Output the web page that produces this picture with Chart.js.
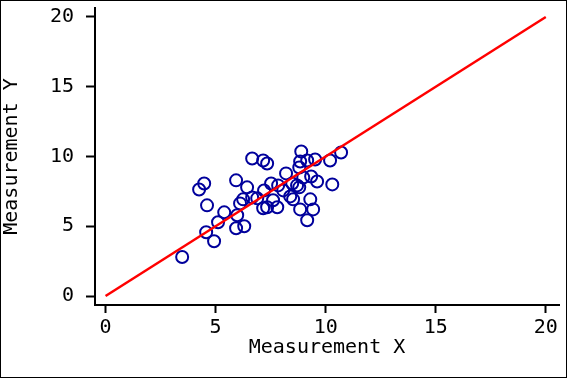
<!DOCTYPE html>
<html>
<head>
<meta charset="utf-8">
<script src="https://cdn.jsdelivr.net/npm/chart.js@4/dist/chart.umd.min.js"></script>
<style>
    html, body { margin: 0; padding: 0; background: #fff; }
    #wrap { width: 567px; height: 378px; }
</style>
</head>
<body>
<div id="wrap"><canvas id="chart" width="567" height="378"></canvas></div>
<script>
const measX = [3.48, 4.25, 4.48, 4.61, 4.57, 4.93, 5.11, 5.39, 5.93, 5.93, 5.98, 6.11, 6.30, 6.25, 6.43, 6.66, 6.66, 6.89, 7.16, 7.34,
    7.20, 7.16, 7.34, 7.52, 7.61, 7.80, 7.84, 8.07, 8.20, 8.39, 8.48, 8.52, 8.70, 8.80, 8.80, 8.89, 8.84, 8.98, 8.84, 9.16,
    9.16, 9.30, 9.43, 9.34, 9.52, 9.61, 10.20, 10.30, 10.70];
const measY = [2.80, 7.64, 8.07, 6.50, 4.57, 3.93, 5.29, 6.00, 8.29, 4.86, 5.79, 6.64, 5.00, 6.93, 7.79, 9.86, 7.07, 7.00, 9.71, 9.50,
    7.57, 6.29, 6.36, 8.07, 6.86, 6.36, 7.93, 7.57, 8.79, 7.14, 8.07, 6.93, 7.93, 9.21, 7.79, 10.36, 9.64, 8.50, 6.21, 9.71,
    5.43, 6.93, 6.21, 8.57, 9.79, 8.21, 9.71, 8.00, 10.29];
const lineX = [0, 20];
const lineY = [0, 20];
const tickValues = [0, 5, 10, 15, 20];
const titleX = "Measurement X";
const titleY = "Measurement Y";

const font = { family: "'DejaVu Sans Mono', monospace", size: 20 };

const frame = {
    id: "frame",
    afterDraw(chart) {
        const ctx = chart.ctx;
        ctx.save();
        ctx.strokeStyle = "#000";
        ctx.lineWidth = 1;
        ctx.strokeRect(0.5, 0.5, chart.width - 1, chart.height - 1);
        ctx.restore();
    }
};

function fixTicks(scale) {
    scale.ticks = tickValues.map(v => ({ value: v }));
}

new Chart(document.getElementById("chart"), {
    type: "scatter",
    data: {
        datasets: [{
            type: "line",
            data: lineX.map((x, i) => ({ x: x, y: lineY[i] })),
            borderColor: "#ff0000",
            borderWidth: 2.5,
            pointRadius: 0,
            fill: false,
            order: 0
        }, {
            data: measX.map((x, i) => ({ x: x, y: measY[i] })),
            pointStyle: "circle",
            pointRadius: 6,
            pointBorderWidth: 2,
            pointBorderColor: "#00009c",
            pointBackgroundColor: "rgba(0,0,0,0)",
            order: 1
        }]
    },
    options: {
        responsive: false,
        animation: false,
        events: [],
        layout: { padding: { top: 7, right: 8, left: 0, bottom: 0 } },
        plugins: { legend: { display: false }, tooltip: { enabled: false } },
        scales: {
            x: {
                type: "linear",
                min: -0.48,
                max: 20.6,
                afterBuildTicks: fixTicks,
                afterFit(scale) {
                    scale.height = 73;
                    scale.paddingLeft = 0;
                    scale.paddingRight = 0;
                },
                border: { display: true, color: "#000", width: 2 },
                grid: { drawOnChartArea: false, drawTicks: true, tickLength: 8, tickWidth: 2, tickColor: "#000" },
                ticks: { color: "#000", font: font, padding: 3, maxRotation: 0 },
                title: { display: true, text: titleX, color: "#000", font: font, padding: { top: 0, bottom: 18 } }
            },
            y: {
                type: "linear",
                min: -0.64,
                max: 20.64,
                afterBuildTicks: fixTicks,
                afterFit(scale) {
                    scale.width = 95;
                    scale.paddingTop = 0;
                    scale.paddingBottom = 0;
                },
                border: { display: true, color: "#000", width: 2 },
                grid: { drawOnChartArea: false, drawTicks: true, tickLength: 9, tickWidth: 2, tickColor: "#000" },
                ticks: { color: "#000", font: font, padding: 12 },
                title: { display: true, text: titleY, color: "#000", font: font, padding: { top: 0, bottom: 0 } }
            }
        }
    },
    plugins: [frame]
});
</script>
</body>
</html>
